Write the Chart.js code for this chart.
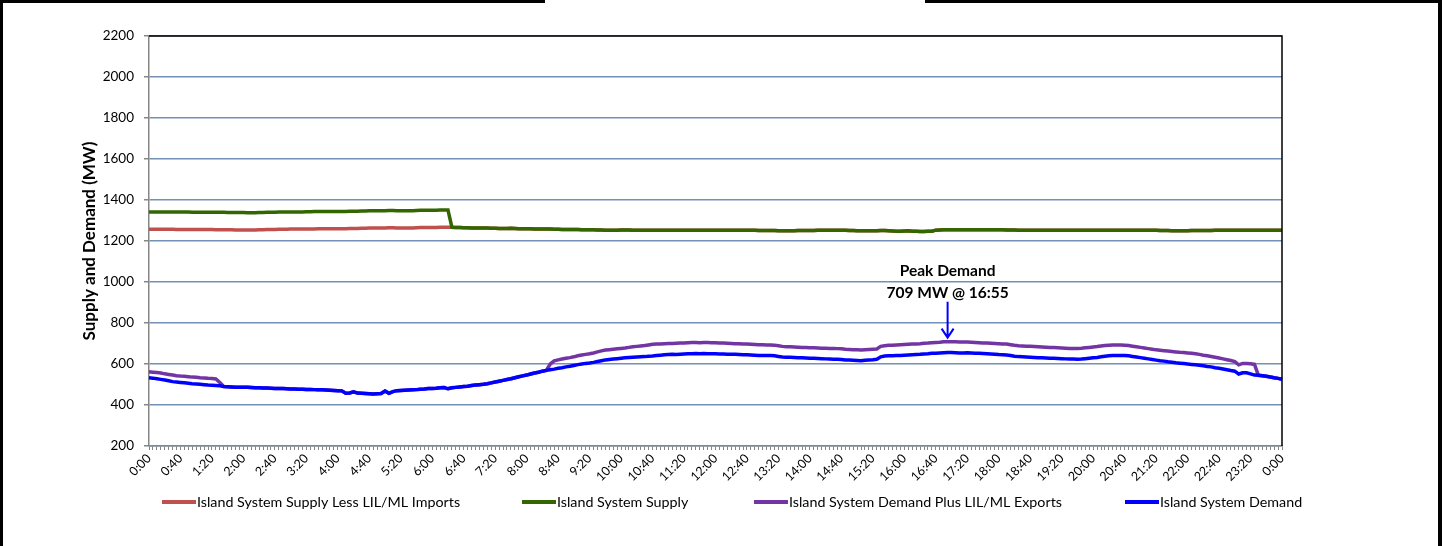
<!DOCTYPE html>
<html>
<head>
<meta charset="utf-8">
<script src="https://cdn.jsdelivr.net/npm/chart.js@4.4.0/dist/chart.umd.min.js"></script>
<style>
    html, body { margin: 0; padding: 0; background: #fff; }
</style>
</head>
<body>
<canvas id="myChart" width="1442" height="546"></canvas>
<script>
// 5 minute readings, 0:00 -> 24:00 (289 points)
const times = [];
for (let i = 0; i <= 288; i++) {
    const h = Math.floor(i * 5 / 60) % 24;
    const m = (i * 5) % 60;
    times.push(h + ':' + String(m).padStart(2, '0'));
}

const supplyLessImports = [
    1257, 1257, 1257, 1257, 1257, 1257, 1257, 1256, 1256, 1256, 1256, 1256,
    1256, 1256, 1256, 1256, 1256, 1255, 1255, 1255, 1255, 1255, 1254, 1254,
    1254, 1254, 1254, 1254, 1255, 1255, 1256, 1256, 1256, 1257, 1257, 1257,
    1258, 1258, 1258, 1258, 1259, 1259, 1259, 1260, 1260, 1260, 1260, 1260,
    1260, 1260, 1260, 1261, 1261, 1261, 1262, 1262, 1263, 1263, 1264, 1264,
    1264, 1265, 1265, 1263, 1263, 1263, 1264, 1264, 1265, 1266, 1266, 1266,
    1266, 1266, 1267, 1267, 1267, 1267, 1266, 1266, 1265, 1265, 1264, 1264,
    1264, 1263, 1263, 1262, 1262, 1261, 1261, 1261, 1262, 1261, 1260, 1260,
    1260, 1260, 1259, 1259, 1259, 1258, 1258, 1257, 1257, 1256, 1256, 1256,
    1256, 1256, 1255, 1255, 1255, 1255, 1254, 1254, 1253, 1252, 1252, 1253,
    1254, 1254, 1254, 1253, 1253, 1253, 1252, 1252, 1252, 1252, 1252, 1252,
    1252, 1252, 1252, 1252, 1252, 1252, 1252, 1252, 1252, 1253, 1253, 1253,
    1253, 1253, 1253, 1253, 1253, 1252, 1252, 1252, 1252, 1252, 1252, 1251,
    1251, 1251, 1251, 1251, 1250, 1250, 1250, 1250, 1250, 1251, 1251, 1251,
    1251, 1251, 1252, 1252, 1252, 1252, 1252, 1252, 1252, 1252, 1251, 1251,
    1250, 1250, 1250, 1250, 1250, 1250, 1251, 1251, 1250, 1249, 1248, 1248,
    1249, 1250, 1248, 1247, 1246, 1246, 1247, 1248, 1253, 1254, 1255, 1255,
    1255, 1255, 1255, 1255, 1255, 1255, 1255, 1255, 1255, 1255, 1255, 1255,
    1255, 1255, 1254, 1254, 1254, 1253, 1253, 1253, 1253, 1253, 1253, 1253,
    1253, 1253, 1253, 1253, 1253, 1253, 1253, 1253, 1253, 1253, 1253, 1253,
    1253, 1253, 1253, 1253, 1253, 1253, 1253, 1253, 1252, 1252, 1252, 1252,
    1252, 1252, 1252, 1252, 1252, 1251, 1251, 1251, 1250, 1250, 1250, 1250,
    1250, 1251, 1251, 1251, 1251, 1251, 1251, 1252, 1252, 1252, 1252, 1252,
    1252, 1252, 1252, 1252, 1252, 1252, 1252, 1252, 1252, 1252, 1252, 1252,
    1252
];

const supply = [
    1341, 1342, 1342, 1341, 1341, 1341, 1341, 1341, 1341, 1341, 1341, 1340,
    1340, 1340, 1340, 1340, 1340, 1340, 1340, 1340, 1339, 1339, 1339, 1339,
    1339, 1338, 1338, 1338, 1339, 1339, 1340, 1340, 1340, 1341, 1341, 1341,
    1342, 1342, 1342, 1342, 1343, 1343, 1344, 1344, 1344, 1344, 1344, 1344,
    1344, 1344, 1344, 1345, 1345, 1345, 1346, 1346, 1347, 1348, 1348, 1348,
    1348, 1349, 1349, 1347, 1347, 1347, 1348, 1348, 1349, 1350, 1350, 1350,
    1350, 1350, 1351, 1351, 1351, 1267, 1266, 1266, 1265, 1265, 1264, 1264,
    1264, 1263, 1263, 1262, 1262, 1261, 1261, 1261, 1262, 1261, 1260, 1260,
    1260, 1260, 1259, 1259, 1259, 1258, 1258, 1257, 1257, 1256, 1256, 1256,
    1256, 1256, 1255, 1255, 1255, 1255, 1254, 1254, 1253, 1252, 1252, 1253,
    1254, 1254, 1254, 1253, 1253, 1253, 1252, 1252, 1252, 1252, 1252, 1252,
    1252, 1252, 1252, 1252, 1252, 1252, 1252, 1252, 1252, 1253, 1253, 1253,
    1253, 1253, 1253, 1253, 1253, 1252, 1252, 1252, 1252, 1252, 1252, 1251,
    1251, 1251, 1251, 1251, 1250, 1250, 1250, 1250, 1250, 1251, 1251, 1251,
    1251, 1251, 1252, 1252, 1252, 1252, 1252, 1252, 1252, 1252, 1251, 1251,
    1250, 1250, 1250, 1250, 1250, 1250, 1251, 1251, 1250, 1249, 1248, 1248,
    1249, 1250, 1248, 1247, 1246, 1246, 1247, 1248, 1253, 1254, 1255, 1255,
    1255, 1255, 1255, 1255, 1255, 1255, 1255, 1255, 1255, 1255, 1255, 1255,
    1255, 1255, 1254, 1254, 1254, 1253, 1253, 1253, 1253, 1253, 1253, 1253,
    1253, 1253, 1253, 1253, 1253, 1253, 1253, 1253, 1253, 1253, 1253, 1253,
    1253, 1253, 1253, 1253, 1253, 1253, 1253, 1253, 1252, 1252, 1252, 1252,
    1252, 1252, 1252, 1252, 1252, 1251, 1251, 1251, 1250, 1250, 1250, 1250,
    1250, 1251, 1251, 1251, 1251, 1251, 1251, 1252, 1252, 1252, 1252, 1252,
    1252, 1252, 1252, 1252, 1252, 1252, 1252, 1252, 1252, 1252, 1252, 1252,
    1252
];

const demandPlusExports = [
    562, 560, 558, 556, 552, 549, 546, 543, 541, 540, 538, 536,
    535, 533, 532, 530, 529, 527, 510, 490, 489, 488, 487, 487,
    486, 486, 485, 484, 484, 483, 483, 482, 481, 481, 480, 479,
    478, 478, 477, 477, 476, 476, 475, 474, 474, 473, 472, 471,
    470, 469, 457, 459, 464, 458, 457, 456, 455, 454, 455, 456,
    468, 457, 465, 470, 471, 472, 473, 474, 475, 477, 478, 480,
    481, 482, 484, 485, 479, 484, 486, 488, 490, 492, 495, 497,
    499, 501, 504, 508, 512, 516, 520, 524, 528, 533, 538, 542,
    546, 551, 556, 560, 565, 569, 600, 615, 620, 624, 628, 631,
    635, 640, 644, 647, 650, 654, 659, 664, 668, 670, 672, 674,
    676, 678, 681, 684, 686, 688, 690, 693, 696, 697, 698, 699,
    700, 700, 701, 702, 703, 704, 705, 705, 704, 705, 705, 704,
    704, 703, 702, 701, 700, 699, 699, 698, 697, 696, 695, 694,
    694, 693, 693, 692, 689, 686, 684, 684, 683, 682, 681, 680,
    679, 679, 678, 677, 677, 676, 676, 675, 674, 672, 671, 670,
    669, 668, 670, 671, 672, 673, 686, 689, 691, 692, 693, 694,
    695, 696, 697, 698, 699, 701, 702, 704, 705, 706, 708, 709,
    709, 708, 707, 707, 707, 706, 705, 704, 703, 702, 701, 700,
    699, 698, 697, 694, 691, 689, 688, 687, 686, 685, 684, 683,
    682, 681, 680, 679, 678, 677, 676, 676, 676, 677, 679, 681,
    683, 685, 688, 690, 692, 693, 693, 693, 692, 690, 687, 684,
    681, 678, 675, 672, 669, 667, 665, 663, 661, 659, 657, 656,
    654, 652, 650, 647, 643, 640, 637, 633, 629, 625, 621, 617,
    612, 596, 603, 603, 601, 598, 545, 543, 540, 537, 533, 530,
    526
];

const demand = [
    533, 531, 528, 525, 522, 518, 514, 512, 510, 508, 506, 504,
    503, 501, 499, 497, 496, 495, 494, 490, 489, 488, 487, 487,
    486, 486, 485, 484, 484, 483, 483, 482, 481, 481, 480, 479,
    478, 478, 477, 477, 476, 476, 475, 474, 474, 473, 472, 471,
    470, 469, 457, 459, 464, 458, 457, 456, 455, 454, 455, 456,
    468, 457, 465, 470, 471, 472, 473, 474, 475, 477, 478, 480,
    481, 482, 484, 485, 479, 484, 486, 488, 490, 492, 495, 497,
    499, 501, 504, 508, 512, 516, 520, 524, 528, 533, 538, 542,
    546, 551, 556, 560, 565, 569, 572, 575, 579, 582, 586, 589,
    593, 597, 600, 603, 605, 608, 612, 616, 620, 622, 624, 626,
    628, 630, 632, 633, 634, 635, 636, 638, 639, 641, 643, 645,
    646, 647, 646, 648, 649, 650, 650, 651, 650, 651, 650, 650,
    650, 649, 649, 648, 647, 647, 646, 645, 645, 644, 643, 642,
    642, 641, 641, 640, 637, 634, 633, 633, 632, 631, 630, 629,
    628, 628, 627, 626, 625, 624, 623, 623, 622, 620, 619, 618,
    617, 616, 618, 620, 621, 623, 635, 639, 640, 640, 641, 642,
    643, 644, 645, 646, 647, 649, 650, 652, 653, 654, 655, 656,
    656, 655, 654, 654, 655, 654, 653, 652, 651, 650, 649, 648,
    646, 645, 644, 641, 638, 636, 635, 634, 633, 632, 631, 630,
    629, 628, 628, 627, 626, 625, 624, 624, 623, 624, 626, 628,
    630, 632, 635, 638, 640, 641, 642, 642, 642, 640, 637, 634,
    631, 628, 625, 622, 619, 616, 614, 611, 609, 606, 604, 602,
    600, 598, 596, 594, 591, 588, 586, 582, 579, 576, 572, 568,
    565, 551, 557, 557, 552, 546, 545, 543, 540, 537, 533, 530,
    526
];

const peakTime = '16:55';
const peakValue = 709;
const peakText = ['Peak Demand', '709 MW @ 16:55'];

const FONT = 'Lato, "Open Sans", sans-serif';

const seriesStyle = [
    { label: 'Island System Supply Less LIL/ML Imports', data: supplyLessImports, color: '#C0504D', order: 3 },
    { label: 'Island System Supply', data: supply, color: '#336600', order: 2 },
    { label: 'Island System Demand Plus LIL/ML Exports', data: demandPlusExports, color: '#7334A4', order: 1 },
    { label: 'Island System Demand', data: demand, color: '#0000FF', order: 0 }
];
const legendX = [162, 522, 754, 1125];

// frame, plot border, legend and peak callout
const extras = {
    id: 'extras',
    afterDatasetsDraw(chart) {
        const ctx = chart.ctx;
        const x = chart.scales.x.getPixelForValue(times.indexOf(peakTime));
        const y = chart.scales.y.getPixelForValue(peakValue);
        ctx.save();
        ctx.fillStyle = '#000';
        ctx.font = 'bold 15.5px ' + FONT;
        ctx.textAlign = 'center';
        ctx.textBaseline = 'middle';
        ctx.fillText(peakText[0], x, y - 71);
        ctx.fillText(peakText[1], x, y - 49);
        ctx.strokeStyle = '#0000FF';
        ctx.lineWidth = 2;
        ctx.beginPath();
        ctx.moveTo(x, y - 40);
        ctx.lineTo(x, y - 4);
        ctx.moveTo(x - 6, y - 13);
        ctx.lineTo(x, y - 4);
        ctx.lineTo(x + 6, y - 13);
        ctx.stroke();
        ctx.restore();
    },
    afterDraw(chart) {
        const ctx = chart.ctx;
        const a = chart.chartArea;
        ctx.save();
        // plot area top / right edge
        ctx.strokeStyle = '#000';
        ctx.lineWidth = 1.5;
        ctx.beginPath();
        ctx.moveTo(a.left, a.top);
        ctx.lineTo(a.right, a.top);
        ctx.lineTo(a.right, a.bottom);
        ctx.stroke();
        // outer frame
        ctx.fillStyle = '#000';
        ctx.fillRect(0, 0, 3, chart.height);
        ctx.fillRect(chart.width - 4, 0, 4, chart.height);
        ctx.fillRect(0, 0, 545, 3);
        ctx.fillRect(925, 0, chart.width - 925, 3);
        // legend
        ctx.font = '14.3px ' + FONT;
        ctx.textBaseline = 'middle';
        ctx.textAlign = 'left';
        ctx.lineWidth = 4;
        seriesStyle.forEach((s, i) => {
            const lx = legendX[i];
            ctx.strokeStyle = s.color;
            ctx.beginPath();
            ctx.moveTo(lx, 502);
            ctx.lineTo(lx + 34, 502);
            ctx.stroke();
            ctx.fillStyle = '#000';
            ctx.fillText(s.label, lx + 35, 502);
        });
        ctx.restore();
    }
};

function createChart() {
    const ctx = document.getElementById('myChart').getContext('2d');
    const config = {
        type: 'line',
        data: {
            labels: times,
            datasets: seriesStyle.map((s) => ({
                label: s.label,
                data: s.data,
                borderColor: s.color,
                backgroundColor: s.color,
                borderWidth: 3.5,
                pointRadius: 0,
                tension: 0,
                order: s.order
            }))
        },
        options: {
            responsive: false,
            animation: false,
            layout: {
                padding: { left: 79, right: 160, top: 36, bottom: 40 }
            },
            scales: {
                x: {
                    afterFit: (s) => { s.height = 60; },
                    grid: {
                        drawOnChartArea: false,
                        tickLength: 4,
                        color: '#868686'
                    },
                    border: { color: '#868686', width: 1.5 },
                    ticks: {
                        autoSkip: false,
                        minRotation: 45,
                        maxRotation: 45,
                        padding: 1,
                        color: '#000',
                        font: { family: FONT, size: 12.5 },
                        callback: (v, i) => (i % 8 === 0 ? times[i] : '')
                    }
                },
                y: {
                    min: 200,
                    max: 2200,
                    afterFit: (s) => { s.width = 70; },
                    grid: {
                        color: '#7391b6',
                        lineWidth: 1.5,
                        tickColor: '#868686',
                        tickLength: 5
                    },
                    border: { color: '#868686', width: 1.5 },
                    ticks: {
                        stepSize: 200,
                        padding: 10,
                        color: '#000',
                        font: { family: FONT, size: 13.5 },
                        callback: (v) => String(v)
                    },
                    title: {
                        display: true,
                        text: 'Supply and Demand (MW)',
                        color: '#000',
                        padding: 0,
                        font: { family: FONT, size: 17, weight: 'bold' }
                    }
                }
            },
            plugins: {
                legend: { display: false },
                tooltip: { enabled: false }
            }
        },
        plugins: [extras]
    };
    new Chart(ctx, config);
}

createChart();
</script>
</body>
</html>
